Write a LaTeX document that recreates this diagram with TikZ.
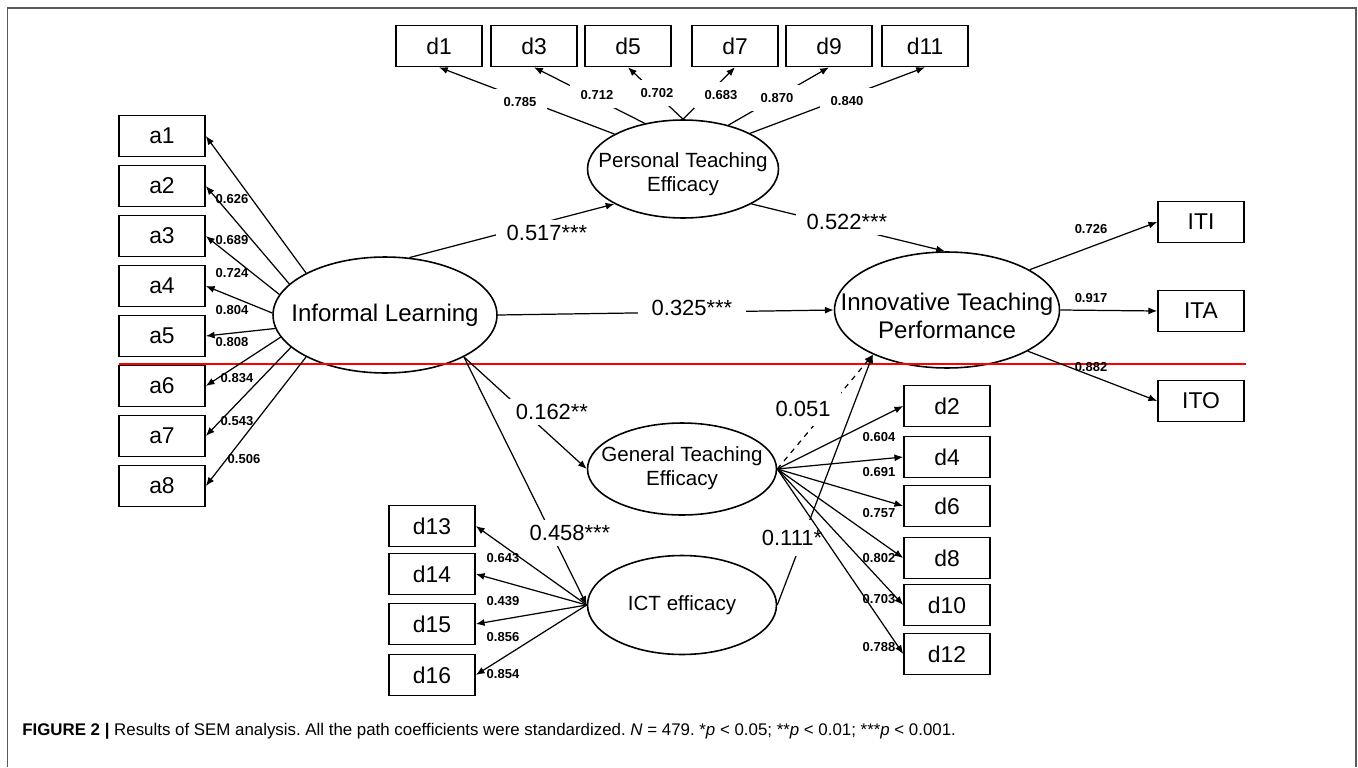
\documentclass[tikz,border=0pt]{standalone}
\usepackage{fontspec}
\setmainfont{Liberation Sans}
\usetikzlibrary{arrows.meta,shapes.geometric}
\frenchspacing
\tikzset{
	>={Latex[length=5pt,width=4pt]},
	obs/.style={draw,rectangle,line width=0.9pt,minimum width=1.72cm,minimum height=0.82cm,inner sep=0pt,font=\fontsize{13}{15}\selectfont},
	lat/.style={draw,ellipse,line width=0.9pt,inner sep=0pt},
	bigname/.style={align=center,font=\fontsize{13.7}{15.5}\selectfont},
	smallname/.style={align=center,font=\fontsize{11.7}{14}\selectfont},
	link/.style={->,line width=0.7pt},
	coef/.style={fill=white,inner xsep=6pt,inner ysep=3pt,font=\fontsize{12.5}{14}\selectfont},
	loadlab/.style={inner sep=1pt,font=\bfseries\fontsize{7.4}{9}\selectfont},
	toplab/.style={loadlab,fill=white,inner xsep=6pt,inner ysep=5pt}
}
\begin{document}
\begin{tikzpicture}[x=0.02cm,y=-0.02cm]
	\useasboundingbox (0,0) rectangle (1358,767);
	% frame
	\draw[gray!70!black,line width=0.7pt] (7.5,767) -- (7.5,8) -- (1356,8) -- (1356,767);
	
	% latent variables
	\node[lat,minimum width=4.48cm,minimum height=2.32cm] (il) at (385,315) {};
	\node[bigname] (iltxt) at (il) {Informal Learning};
	\node[lat,minimum width=3.82cm,minimum height=1.96cm] (pte) at (683,169) {};
	\node[smallname] (ptetxt) at (683,174) {Personal Teaching\\Efficacy};
	\node[lat,minimum width=4.5cm,minimum height=2.32cm] (itp) at (947,310) {};
	\node[bigname] (itptxt) at (947,316) {Innovative Teaching\\Performance};
	\node[lat,minimum width=3.78cm,minimum height=1.84cm] (gte) at (682,469) {};
	\node[smallname] (gtetxt) at (682,468) {General Teaching\\Efficacy};
	\node[lat,minimum width=3.78cm,minimum height=1.98cm] (ict) at (682,605) {};
	\node[smallname] (icttxt) at (ict) {ICT efficacy};
	
	% indicators
	\foreach \i in {1,...,8}
		\node[obs] (a\i) at (162,{136+50*(\i-1)}) {a\i};
	\foreach \n/\x in {1/439,3/534,5/628,7/735,9/829,11/925}
		\node[obs] (d\n) at (\x,46) {d\n};
	\foreach \n/\y in {2/406,4/457,6/506,8/558,10/605,12/654}
		\node[obs] (d\n) at (947,\y) {d\n};
	\foreach \n/\y in {13/526,14/574,15/624,16/675}
		\node[obs] (d\n) at (432,\y) {d\n};
	\node[obs] (iti) at (1201,222) {ITI};
	\node[obs] (ita) at (1201,311) {ITA};
	\node[obs] (ito) at (1201,401) {ITO};
	
	\draw[red,line width=0.6pt] (119,364) -- (1246,364);
	
	% structural paths
	\draw[link] (il.67) -- (pte.207);
	\draw[link] (pte.333) -- (itp.92);
	\draw[link] (il.east) -- (itp.west);
	\draw[link] (il.332) -- (gte.west);
	\draw[link] (il.332) -- (ict.west);
	\draw[link,dashed] (gte.east) -- (itp.211);
	\draw[link] (ict.east) -- (itp.211);
	\node[coef,inner xsep=0pt,inner ysep=6pt] (c111) at (792,538) {0.111*};
	
	% loadings
	\foreach \i/\a in {1/152,2/162,3/169,4/179,5/187,6/192,7/199,8/208}
		\draw[link] (il.\a) -- (a\i.east);
	\foreach \n/\a in {1/153,3/130,5/90,7/90,9/44,11/28}
		\draw[link] (pte.\a) -- (d\n.south);
	\foreach \n in {2,4,...,12}
		\draw[link] (gte.east) -- (d\n.west);
	\foreach \n in {13,...,16}
		\draw[link] (ict.west) -- (d\n.east);
	\draw[link] (itp.26) -- (iti.west);
	\draw[link] (itp.east) -- (ita.west);
	\draw[link] (itp.333) -- (ito.west);
	
	% coefficients
	\node[coef] (c517) at (547,233) {0.517***};
	\node[coef] (c522) at (847,222) {0.522***};
	\node[coef,inner xsep=8pt] (c325) at (692,308) {0.325***};
	\node[coef] (c162) at (552,412) {0.162**};
	\node[coef] (c458) at (570,533) {0.458***};
	\node[coef,inner ysep=5pt] (c051) at (803,409) {0.051};
	
	\foreach \v/\x/\y in {0.785/520/102,0.712/597/95,0.702/657/93,0.683/721/95,0.870/777/98,0.840/847/101}
		\node[toplab] at (\x,\y) {\v};
	\foreach \v/\x/\y in {0.626/232/199,0.689/232/240,0.724/232/273,0.804/232/310,0.808/232/342,0.834/237/378,0.543/237/421,0.506/244/459}
		\node[loadlab] at (\x,\y) {\v};
	\foreach \v/\y in {0.604/437,0.691/472,0.757/513,0.802/558,0.703/599,0.788/647}
		\node[loadlab] at (879,\y) {\v};
	\foreach \v/\y in {0.643/558,0.439/601,0.856/637,0.854/674}
		\node[loadlab] at (503,\y) {\v};
	\foreach \v/\y in {0.726/229,0.917/298,0.882/367}
		\node[loadlab] at (1091,\y) {\v};
	
	% caption
	\node[anchor=west,inner sep=0pt,font=\fontsize{9.6}{11}\selectfont] (cap) at (22,731)
		{\textbf{FIGURE 2 |} Results of SEM analysis. All the path coefficients were standardized. \textit{N} = 479. *\textit{p} < 0.05; **\textit{p} < 0.01; ***\textit{p} < 0.001.};
\end{tikzpicture}
\end{document}
